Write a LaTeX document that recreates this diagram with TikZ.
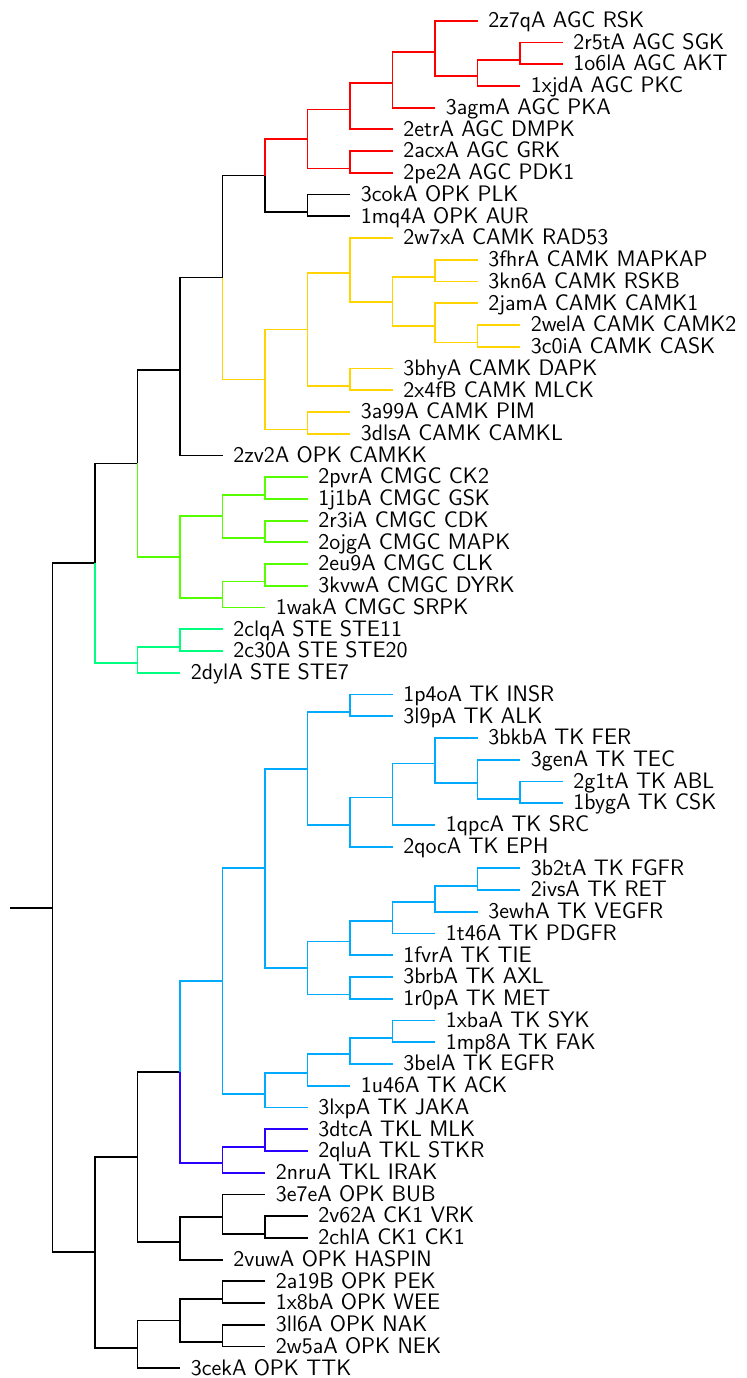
\documentclass[tikz,border=0pt]{standalone}
\usetikzlibrary{calc}

\definecolor{cagc}{RGB}{255,0,0}
\definecolor{ccamk}{RGB}{255,212,0}
\definecolor{ccmgc}{RGB}{85,255,0}
\definecolor{cste}{RGB}{0,255,128}
\definecolor{ctk}{RGB}{0,170,255}
\definecolor{ctkl}{RGB}{42,0,255}

\tikzset{
  e/.style={line width=0.9pt, line join=miter, black},
  agc/.style={e, draw=cagc},
  camk/.style={e, draw=ccamk},
  cmgc/.style={e, draw=ccmgc},
  ste/.style={e, draw=cste},
  tk/.style={e, draw=ctk},
  tkl/.style={e, draw=ctkl},
  lab/.style={anchor=base west, inner xsep=5.25pt, inner ysep=0pt, yshift=-3.4pt,
    font=\sffamily\fontsize{11.2}{13}\selectfont},
}

% leaf: name, depth of its tip, row, label
\newcommand\lf[4]{%
  \coordinate (#1) at ({10+42.5*#2},{20.7+21.735*#3});
  \coordinate (#1 ctr) at ({10+42.5*#2},{27.3+21.735*#3});
  \node[lab] (#1 text) at (#1) {#4};
}
% inner node: name, depth, first child, last child
\newcommand\nd[4]{%
  \path let \p1=(#3 ctr), \p2=(#4 ctr) in
    coordinate (#1) at ({(5+21.25*#2)*1pt},{0.5*(\y1+\y2)});
  \coordinate (#1 ctr) at (#1);
}

\begin{document}
\begin{tikzpicture}[x=0.5pt,y=-0.5pt]
\useasboundingbox (0,0) rectangle (746,1378);

% ---- leaves ----
\lf{x2z7qA}{11}{0}{2z7qA AGC RSK}
\lf{x2r5tA}{13}{1}{2r5tA AGC SGK}
\lf{x1o6lA}{13}{2}{1o6lA AGC AKT}
\lf{x1xjdA}{12}{3}{1xjdA AGC PKC}
\lf{x3agmA}{10}{4}{3agmA AGC PKA}
\lf{x2etrA}{9}{5}{2etrA AGC DMPK}
\lf{x2acxA}{9}{6}{2acxA AGC GRK}
\lf{x2pe2A}{9}{7}{2pe2A AGC PDK1}
\lf{x3cokA}{8}{8}{3cokA OPK PLK}
\lf{x1mq4A}{8}{9}{1mq4A OPK AUR}
\lf{x2w7xA}{9}{10}{2w7xA CAMK RAD53}
\lf{x3fhrA}{11}{11}{3fhrA CAMK MAPKAP}
\lf{x3kn6A}{11}{12}{3kn6A CAMK RSKB}
\lf{x2jamA}{11}{13}{2jamA CAMK CAMK1}
\lf{x2welA}{12}{14}{2welA CAMK CAMK2}
\lf{x3c0iA}{12}{15}{3c0iA CAMK CASK}
\lf{x3bhyA}{9}{16}{3bhyA CAMK DAPK}
\lf{x2x4fB}{9}{17}{2x4fB CAMK MLCK}
\lf{x3a99A}{8}{18}{3a99A CAMK PIM}
\lf{x3dlsA}{8}{19}{3dlsA CAMK CAMKL}
\lf{x2zv2A}{5}{20}{2zv2A OPK CAMKK}
\lf{x2pvrA}{7}{21}{2pvrA CMGC CK2}
\lf{x1j1bA}{7}{22}{1j1bA CMGC GSK}
\lf{x2r3iA}{7}{23}{2r3iA CMGC CDK}
\lf{x2ojgA}{7}{24}{2ojgA CMGC MAPK}
\lf{x2eu9A}{7}{25}{2eu9A CMGC CLK}
\lf{x3kvwA}{7}{26}{3kvwA CMGC DYRK}
\lf{x1wakA}{6}{27}{1wakA CMGC SRPK}
\lf{x2clqA}{5}{28}{2clqA STE STE11}
\lf{x2c30A}{5}{29}{2c30A STE STE20}
\lf{x2dylA}{4}{30}{2dylA STE STE7}
\lf{x1p4oA}{9}{31}{1p4oA TK INSR}
\lf{x3l9pA}{9}{32}{3l9pA TK ALK}
\lf{x3bkbA}{11}{33}{3bkbA TK FER}
\lf{x3genA}{12}{34}{3genA TK TEC}
\lf{x2g1tA}{13}{35}{2g1tA TK ABL}
\lf{x1bygA}{13}{36}{1bygA TK CSK}
\lf{x1qpcA}{10}{37}{1qpcA TK SRC}
\lf{x2qocA}{9}{38}{2qocA TK EPH}
\lf{x3b2tA}{12}{39}{3b2tA TK FGFR}
\lf{x2ivsA}{12}{40}{2ivsA TK RET}
\lf{x3ewhA}{11}{41}{3ewhA TK VEGFR}
\lf{x1t46A}{10}{42}{1t46A TK PDGFR}
\lf{x1fvrA}{9}{43}{1fvrA TK TIE}
\lf{x3brbA}{9}{44}{3brbA TK AXL}
\lf{x1r0pA}{9}{45}{1r0pA TK MET}
\lf{x1xbaA}{10}{46}{1xbaA TK SYK}
\lf{x1mp8A}{10}{47}{1mp8A TK FAK}
\lf{x3belA}{9}{48}{3belA TK EGFR}
\lf{x1u46A}{8}{49}{1u46A TK ACK}
\lf{x3lxpA}{7}{50}{3lxpA TK JAKA}
\lf{x3dtcA}{7}{51}{3dtcA TKL MLK}
\lf{x2qluA}{7}{52}{2qluA TKL STKR}
\lf{x2nruA}{6}{53}{2nruA TKL IRAK}
\lf{x3e7eA}{6}{54}{3e7eA OPK BUB}
\lf{x2v62A}{7}{55}{2v62A CK1 VRK}
\lf{x2chlA}{7}{56}{2chlA CK1 CK1}
\lf{x2vuwA}{5}{57}{2vuwA OPK HASPIN}
\lf{x2a19B}{6}{58}{2a19B OPK PEK}
\lf{x1x8bA}{6}{59}{1x8bA OPK WEE}
\lf{x3ll6A}{6}{60}{3ll6A OPK NAK}
\lf{x2w5aA}{6}{61}{2w5aA OPK NEK}
\lf{x3cekA}{4}{62}{3cekA OPK TTK}

% ---- inner nodes, children first ----
\nd{AGCf}{12}{x2r5tA}{x1o6lA}
\nd{AGCe}{11}{AGCf}{x1xjdA}
\nd{AGCd}{10}{x2z7qA}{AGCe}
\nd{AGCc}{9}{AGCd}{x3agmA}
\nd{AGCa}{8}{AGCc}{x2etrA}
\nd{AGCb}{8}{x2acxA}{x2pe2A}
\nd{AGC}{7}{AGCa}{AGCb}
\nd{G}{7}{x3cokA}{x1mq4A}
\nd{F}{6}{AGC}{G}
\nd{CAf}{10}{x3fhrA}{x3kn6A}
\nd{CAh}{11}{x2welA}{x3c0iA}
\nd{CAg}{10}{x2jamA}{CAh}
\nd{CAe}{9}{CAf}{CAg}
\nd{CAc}{8}{x2w7xA}{CAe}
\nd{CAd}{8}{x3bhyA}{x2x4fB}
\nd{CAa}{7}{CAc}{CAd}
\nd{CAb}{7}{x3a99A}{x3dlsA}
\nd{CAMK}{6}{CAa}{CAb}
\nd{E}{5}{F}{CAMK}
\nd{D}{4}{E}{x2zv2A}
\nd{CMc}{6}{x2pvrA}{x1j1bA}
\nd{CMd}{6}{x2r3iA}{x2ojgA}
\nd{CMa}{5}{CMc}{CMd}
\nd{CMe}{6}{x2eu9A}{x3kvwA}
\nd{CMb}{5}{CMe}{x1wakA}
\nd{CMGC}{4}{CMa}{CMb}
\nd{C}{3}{D}{CMGC}
\nd{STEa}{4}{x2clqA}{x2c30A}
\nd{STE}{3}{STEa}{x2dylA}
\nd{A}{2}{C}{STE}
\nd{TKe}{8}{x1p4oA}{x3l9pA}
\nd{TKj}{12}{x2g1tA}{x1bygA}
\nd{TKi}{11}{x3genA}{TKj}
\nd{TKh}{10}{x3bkbA}{TKi}
\nd{TKg}{9}{TKh}{x1qpcA}
\nd{TKf}{8}{TKg}{x2qocA}
\nd{TKc}{7}{TKe}{TKf}
\nd{TKo}{11}{x3b2tA}{x2ivsA}
\nd{TKn}{10}{TKo}{x3ewhA}
\nd{TKm}{9}{TKn}{x1t46A}
\nd{TKk}{8}{TKm}{x1fvrA}
\nd{TKl}{8}{x3brbA}{x1r0pA}
\nd{TKd}{7}{TKk}{TKl}
\nd{TKa}{6}{TKc}{TKd}
\nd{TKr}{9}{x1xbaA}{x1mp8A}
\nd{TKq}{8}{TKr}{x3belA}
\nd{TKp}{7}{TKq}{x1u46A}
\nd{TKb}{6}{TKp}{x3lxpA}
\nd{TK}{5}{TKa}{TKb}
\nd{TKLa}{6}{x3dtcA}{x2qluA}
\nd{TKL}{5}{TKLa}{x2nruA}
\nd{J}{4}{TK}{TKL}
\nd{Kb}{6}{x2v62A}{x2chlA}
\nd{Ka}{5}{x3e7eA}{Kb}
\nd{K}{4}{Ka}{x2vuwA}
\nd{H}{3}{J}{K}
\nd{Ib}{5}{x2a19B}{x1x8bA}
\nd{Ic}{5}{x3ll6A}{x2w5aA}
\nd{Ia}{4}{Ib}{Ic}
\nd{I}{3}{Ia}{x3cekA}
\nd{B}{2}{H}{I}
\nd{N}{1}{A}{B}
\path let \p1=(N) in coordinate (root) at (5pt,\y1);

% ---- branches ----
\draw[e] (root) -- (N);
\draw[e] (N) |- (A);
\draw[e] (N) |- (B);
\draw[e] (A) |- (C);
\draw[e] (C) |- (D);
\draw[e] (D) |- (E);
\draw[e] (D) |- (x2zv2A);
\draw[e] (E) |- (F);
\draw[e] (F) |- (G);
\draw[e] (G) |- (x3cokA);
\draw[e] (G) |- (x1mq4A);

\draw[agc] (F) |- (AGC);
\draw[agc] (AGC) |- (AGCa);
\draw[agc] (AGC) |- (AGCb);
\draw[agc] (AGCa) |- (AGCc);
\draw[agc] (AGCa) |- (x2etrA);
\draw[agc] (AGCc) |- (AGCd);
\draw[agc] (AGCc) |- (x3agmA);
\draw[agc] (AGCd) |- (x2z7qA);
\draw[agc] (AGCd) |- (AGCe);
\draw[agc] (AGCe) |- (AGCf);
\draw[agc] (AGCe) |- (x1xjdA);
\draw[agc] (AGCf) |- (x2r5tA);
\draw[agc] (AGCf) |- (x1o6lA);
\draw[agc] (AGCb) |- (x2acxA);
\draw[agc] (AGCb) |- (x2pe2A);

\draw[camk] (E) |- (CAMK);
\draw[camk] (CAMK) |- (CAa);
\draw[camk] (CAMK) |- (CAb);
\draw[camk] (CAa) |- (CAc);
\draw[camk] (CAa) |- (CAd);
\draw[camk] (CAc) |- (x2w7xA);
\draw[camk] (CAc) |- (CAe);
\draw[camk] (CAe) |- (CAf);
\draw[camk] (CAe) |- (CAg);
\draw[camk] (CAf) |- (x3fhrA);
\draw[camk] (CAf) |- (x3kn6A);
\draw[camk] (CAg) |- (x2jamA);
\draw[camk] (CAg) |- (CAh);
\draw[camk] (CAh) |- (x2welA);
\draw[camk] (CAh) |- (x3c0iA);
\draw[camk] (CAd) |- (x3bhyA);
\draw[camk] (CAd) |- (x2x4fB);
\draw[camk] (CAb) |- (x3a99A);
\draw[camk] (CAb) |- (x3dlsA);

\draw[cmgc] (C) |- (CMGC);
\draw[cmgc] (CMGC) |- (CMa);
\draw[cmgc] (CMGC) |- (CMb);
\draw[cmgc] (CMa) |- (CMc);
\draw[cmgc] (CMa) |- (CMd);
\draw[cmgc] (CMc) |- (x2pvrA);
\draw[cmgc] (CMc) |- (x1j1bA);
\draw[cmgc] (CMd) |- (x2r3iA);
\draw[cmgc] (CMd) |- (x2ojgA);
\draw[cmgc] (CMb) |- (CMe);
\draw[cmgc] (CMb) |- (x1wakA);
\draw[cmgc] (CMe) |- (x2eu9A);
\draw[cmgc] (CMe) |- (x3kvwA);

\draw[ste] (A) |- (STE);
\draw[ste] (STE) |- (STEa);
\draw[ste] (STE) |- (x2dylA);
\draw[ste] (STEa) |- (x2clqA);
\draw[ste] (STEa) |- (x2c30A);

\draw[e] (B) |- (H);
\draw[e] (B) |- (I);
\draw[e] (H) |- (J);
\draw[e] (H) |- (K);

\draw[tk] (J) |- (TK);
\draw[tk] (TK) |- (TKa);
\draw[tk] (TK) |- (TKb);
\draw[tk] (TKa) |- (TKc);
\draw[tk] (TKa) |- (TKd);
\draw[tk] (TKc) |- (TKe);
\draw[tk] (TKc) |- (TKf);
\draw[tk] (TKe) |- (x1p4oA);
\draw[tk] (TKe) |- (x3l9pA);
\draw[tk] (TKf) |- (TKg);
\draw[tk] (TKf) |- (x2qocA);
\draw[tk] (TKg) |- (TKh);
\draw[tk] (TKg) |- (x1qpcA);
\draw[tk] (TKh) |- (x3bkbA);
\draw[tk] (TKh) |- (TKi);
\draw[tk] (TKi) |- (x3genA);
\draw[tk] (TKi) |- (TKj);
\draw[tk] (TKj) |- (x2g1tA);
\draw[tk] (TKj) |- (x1bygA);
\draw[tk] (TKd) |- (TKk);
\draw[tk] (TKd) |- (TKl);
\draw[tk] (TKk) |- (TKm);
\draw[tk] (TKk) |- (x1fvrA);
\draw[tk] (TKm) |- (TKn);
\draw[tk] (TKm) |- (x1t46A);
\draw[tk] (TKn) |- (TKo);
\draw[tk] (TKn) |- (x3ewhA);
\draw[tk] (TKo) |- (x3b2tA);
\draw[tk] (TKo) |- (x2ivsA);
\draw[tk] (TKl) |- (x3brbA);
\draw[tk] (TKl) |- (x1r0pA);
\draw[tk] (TKb) |- (TKp);
\draw[tk] (TKb) |- (x3lxpA);
\draw[tk] (TKp) |- (TKq);
\draw[tk] (TKp) |- (x1u46A);
\draw[tk] (TKq) |- (TKr);
\draw[tk] (TKq) |- (x3belA);
\draw[tk] (TKr) |- (x1xbaA);
\draw[tk] (TKr) |- (x1mp8A);

\draw[tkl] (J) |- (TKL);
\draw[tkl] (TKL) |- (TKLa);
\draw[tkl] (TKL) |- (x2nruA);
\draw[tkl] (TKLa) |- (x3dtcA);
\draw[tkl] (TKLa) |- (x2qluA);

\draw[e] (K) |- (Ka);
\draw[e] (K) |- (x2vuwA);
\draw[e] (Ka) |- (x3e7eA);
\draw[e] (Ka) |- (Kb);
\draw[e] (Kb) |- (x2v62A);
\draw[e] (Kb) |- (x2chlA);
\draw[e] (I) |- (Ia);
\draw[e] (I) |- (x3cekA);
\draw[e] (Ia) |- (Ib);
\draw[e] (Ia) |- (Ic);
\draw[e] (Ib) |- (x2a19B);
\draw[e] (Ib) |- (x1x8bA);
\draw[e] (Ic) |- (x3ll6A);
\draw[e] (Ic) |- (x2w5aA);
\end{tikzpicture}
\end{document}
